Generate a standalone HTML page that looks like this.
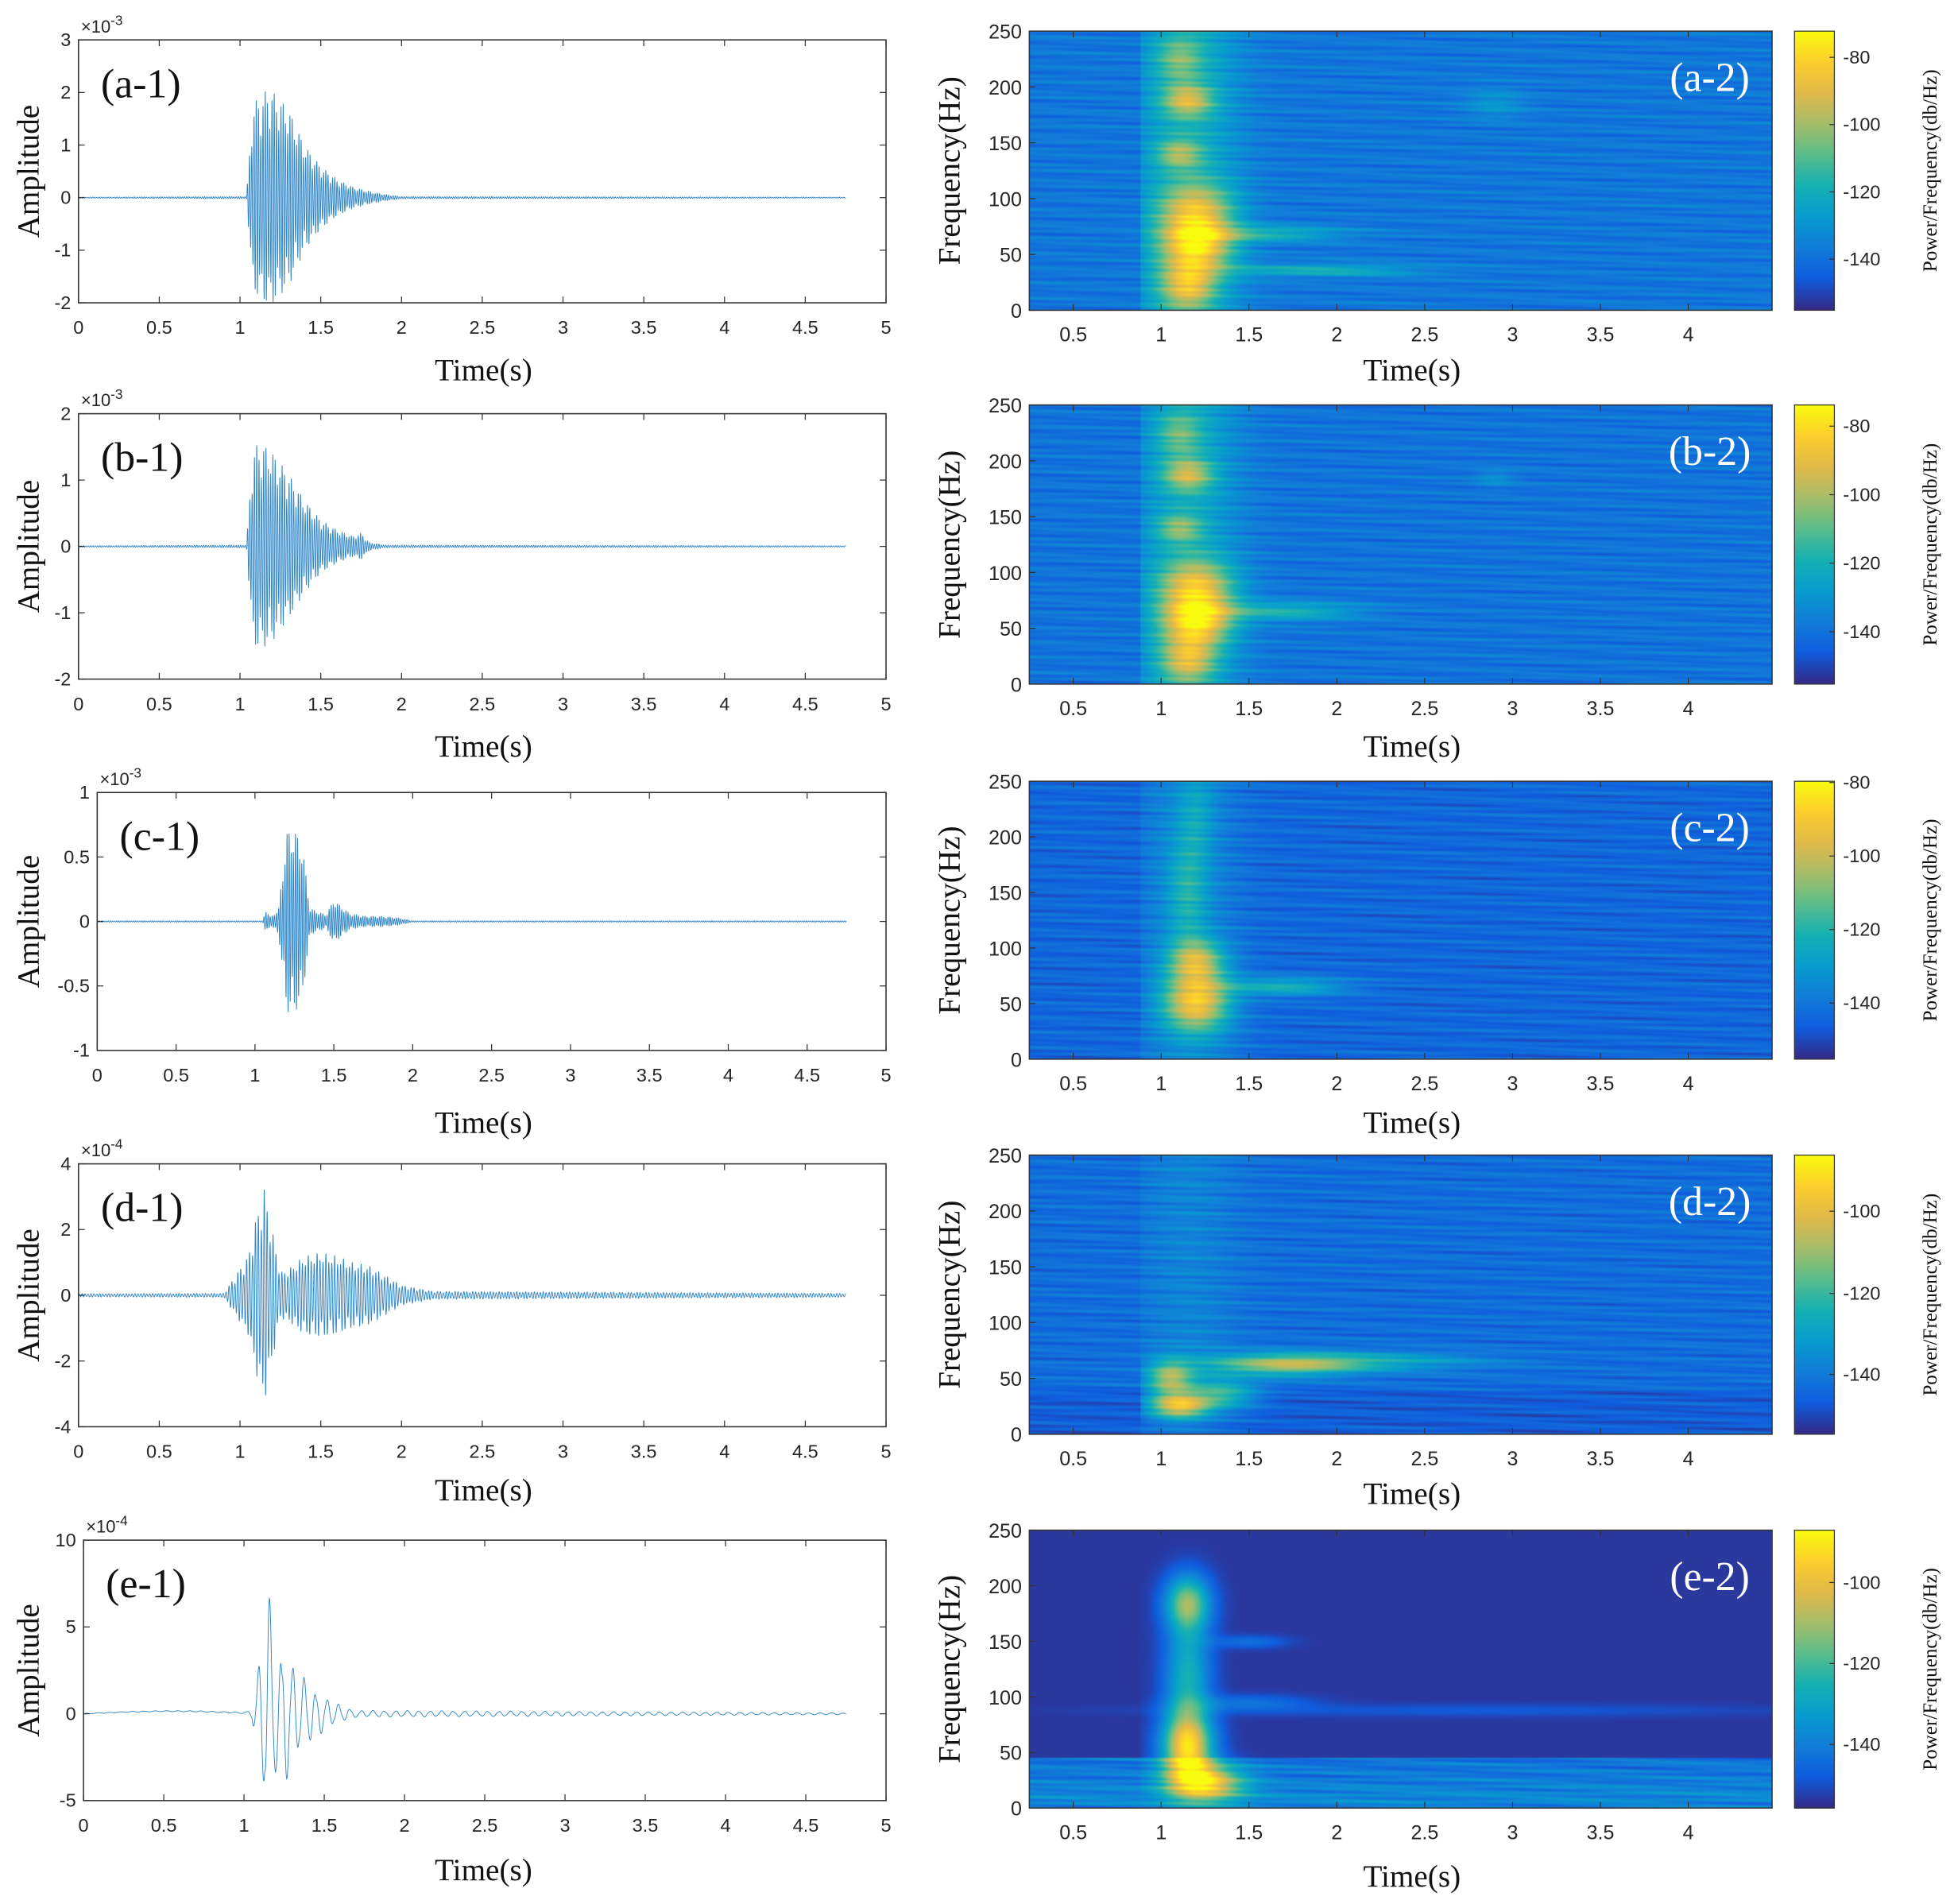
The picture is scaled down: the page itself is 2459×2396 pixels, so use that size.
<!DOCTYPE html>
<html><head><meta charset="utf-8">
<style>
html,body{margin:0;padding:0;background:#fff;}
body{width:2459px;height:2396px;position:relative;overflow:hidden;}
canvas{position:absolute;}
#fig{position:absolute;left:0;top:0;}
</style></head>
<body>
<div id="canvases"></div>
<svg id="fig" width="2459" height="2396" viewBox="0 0 1568 1528" preserveAspectRatio="none" xmlns="http://www.w3.org/2000/svg"></svg>
<script>
// ---------- waveform data (envelope values) ----------
const labels1 = ["(a-1)","(b-1)","(c-1)","(d-1)","(e-1)"];
const labels2 = ["(a-2)","(b-2)","(c-2)","(d-2)","(e-2)"];
const yTicksA = [-2,-1,0,1,2,3];
const yTicksB = [-2,-1,0,1,2];
const yTicksC = [-1,-0.5,0,0.5,1];
const yTicksD = [-4,-2,0,2,4];
const yTicksE = [-5,0,5,10];
const expLabels = ["-3","-3","-3","-4","-4"];
const xTicks = [0,0.5,1,1.5,2,2.5,3,3.5,4,4.5,5];
const envTimesA = [0,1.04,1.08,1.12,1.18,1.24,1.3,1.4,1.5,1.6,1.7,1.8,1.9,2.0,4.75];
const envValsA  = [0.01,0.02,1.8,1.9,2.1,1.9,1.7,1.0,0.6,0.35,0.2,0.12,0.06,0.02,0.01];
const envTimesB = [0,1.04,1.08,1.12,1.18,1.24,1.3,1.4,1.5,1.6,1.7,1.75,1.8,1.9,4.75];
const envValsB  = [0.01,0.02,1.5,1.55,1.5,1.3,1.1,0.7,0.4,0.25,0.15,0.2,0.06,0.02,0.01];
const envTimesC = [0,1.05,1.07,1.1,1.15,1.2,1.25,1.3,1.35,1.45,1.5,1.6,1.7,1.8,1.9,2.0,4.75];
const envValsC  = [0.005,0.005,0.1,0.03,0.1,0.7,0.72,0.6,0.1,0.05,0.17,0.06,0.04,0.04,0.03,0.005,0.005];
const envTimesD = [0,0.9,1.05,1.1,1.15,1.2,1.25,1.3,1.4,1.5,1.6,1.7,1.8,1.9,2.0,2.2,4.75];
const envValsD  = [0.05,0.06,1.2,2.4,3.3,2.0,0.7,0.8,1.2,1.3,1.2,1.0,0.9,0.6,0.3,0.12,0.06];
const envTimesE = [0,1.0,1.05,1.1,1.15,1.2,1.25,1.3,1.4,1.5,1.6,1.7,4.75];
const envValsE  = [0.02,0.04,0.3,3.5,7.5,3.5,4.2,3.0,1.8,1.0,0.5,0.2,0.05];

// ---------- spectrogram blobs: [time(s), freq(Hz), sigmaT, sigmaF, strength 0..1] ----------
const blobsA = [[1.2,55,0.14,16,0.5],[1.2,88,0.15,18,0.42],[1.15,20,0.11,14,0.42],[1.15,188,0.1,10,0.38],[1.1,140,0.09,9,0.3],[1.1,225,0.09,14,0.22],[1.6,68,0.3,5,0.25],[1.9,35,0.4,4,0.24],[2.9,185,0.12,10,0.12]];
const blobsB = [[1.2,55,0.14,16,0.55],[1.2,88,0.15,17,0.45],[1.15,20,0.11,14,0.4],[1.15,188,0.1,10,0.38],[1.1,140,0.09,9,0.28],[1.1,225,0.09,14,0.22],[1.7,65,0.3,6,0.26],[2.9,185,0.08,6,0.1]];
const blobsC = [[1.2,50,0.13,18,0.6],[1.2,88,0.11,14,0.46],[1.7,65,0.25,6,0.28],[1.15,150,0.08,35,0.2],[1.2,220,0.07,30,0.12]];
const blobsD = [[1.1,25,0.12,8,0.62],[1.05,50,0.09,11,0.45],[1.7,62,0.3,7,0.45],[2.2,65,0.45,6,0.22],[1.35,35,0.14,9,0.32]];
const blobsE = [[1.15,185,0.09,18,0.58],[1.15,55,0.1,22,0.85],[1.25,22,0.15,12,0.65],[1.15,120,0.09,35,0.4],[1.5,150,0.15,4,0.15],[1.5,95,0.25,5,0.15],[2.8,88,1.2,4,0.08]];
const baseLevels = [0.2,0.19,0.15,0.17,0.03];
const bandLevels = [0.22,0.2,0.12,0.08,0];
const cbTicks = [[-80,-100,-120,-140],[-80,-100,-120,-140],[-80,-100,-120,-140],[-100,-120,-140],[-100,-120,-140]];
const cbTickY = [[46,100,154,208],[342,397,452,507],[628,687,746,805],[972,1038,1103],[1270,1335,1400]];
const specTicks = [0.5,1,1.5,2,2.5,3,3.5,4];
const freqTicks = [0,50,100,150,200,250];

// ---------- layout (in 1568x1528 figure units) ----------
const S = 2459/1568;
const left = [
 {x0:63,x1:711,yT:32,yB:243,ymin:-2,ymax:3,ticks:yTicksA,times:envTimesA,vals:envValsA},
 {x0:63,x1:711,yT:332,yB:545,ymin:-2,ymax:2,ticks:yTicksB,times:envTimesB,vals:envValsB},
 {x0:78,x1:711,yT:636,yB:843,ymin:-1,ymax:1,ticks:yTicksC,times:envTimesC,vals:envValsC},
 {x0:63,x1:711,yT:934,yB:1145,ymin:-4,ymax:4,ticks:yTicksD,times:envTimesD,vals:envValsD},
 {x0:67,x1:711,yT:1236,yB:1445,ymin:-5,ymax:10,ticks:yTicksE,times:envTimesE,vals:envValsE}
];
const spec = [
 {yT:25,yB:249,blobs:blobsA},{yT:325,yB:549,blobs:blobsB},{yT:627,yB:850,blobs:blobsC},
 {yT:927,yB:1151,blobs:blobsD},{yT:1228,yB:1451,blobs:blobsE}
];
const SX0=826, SX1=1422, T0=0.25, T1=0.25+(1422-826)/141;
const CBX0=1440, CBX1=1472;

const NS="http://www.w3.org/2000/svg";
const svg=document.getElementById('fig');
function el(tag,attrs,parent){const e=document.createElementNS(NS,tag);for(const k in attrs)e.setAttribute(k,attrs[k]);(parent||svg).appendChild(e);return e;}
function txt(s,attrs,parent){const e=el('text',attrs,parent);e.textContent=s;return e;}

const parula=[[53,42,135],[15,92,221],[18,125,216],[7,156,207],[21,177,180],[89,189,140],[165,190,107],[225,185,74],[252,206,46],[249,251,14]];
function cmap(v){v=Math.max(0,Math.min(1,v));const p=v*(parula.length-1);const i=Math.min(parula.length-2,Math.floor(p));const f=p-i;const a=parula[i],b=parula[i+1];return [a[0]+(b[0]-a[0])*f,a[1]+(b[1]-a[1])*f,a[2]+(b[2]-a[2])*f];}
function interp(ts,vs,t){if(t<=ts[0])return vs[0];for(let i=1;i<ts.length;i++){if(t<=ts[i]){const f=(t-ts[i-1])/(ts[i]-ts[i-1]);return vs[i-1]+(vs[i]-vs[i-1])*f;}}return vs[vs.length-1];}

const serif='"Liberation Serif", serif', sans='"Liberation Sans", sans-serif';

left.forEach((p,k)=>{
  const g=el('g',{});
  
  
  const xs=t=>p.x0+(t/5)*(p.x1-p.x0);
  const ys=v=>p.yB-(v-p.ymin)/(p.ymax-p.ymin)*(p.yB-p.yT);
  let d='';
  const f0=[72,70,75,55,14][k];
  const step=k===4?0.002:0.0006;
  for(let t=0;t<=4.75;t+=step){
    const e=interp(p.times,p.vals,t);
    const y=e*Math.sin(2*Math.PI*f0*t)*(0.6+0.4*Math.abs(Math.sin(2*Math.PI*9.3*t)));
    let off=0; if(k===4) off=0.15*Math.sin(Math.PI*t/1.1)*(t<1.1?1:0);
    d+=(d?'L':'M')+xs(t).toFixed(2)+' '+ys(y+off).toFixed(2);
  }
  const path=el('path',{d:d,fill:'none',stroke:'#2f86c8','stroke-width':0.6},g);
  
  
  const fr=el('rect',{x:p.x0,y:p.yT,width:p.x1-p.x0,height:p.yB-p.yT,fill:'none',stroke:'#333','stroke-width':1},g);
  
  
  xTicks.forEach(t=>{
    const x=xs(t);
    el('line',{x1:x,x2:x,y1:p.yB,y2:p.yB-5,stroke:'#333','stroke-width':0.8},g);
    el('line',{x1:x,x2:x,y1:p.yT,y2:p.yT+5,stroke:'#333','stroke-width':0.8},g);
    const tl=txt(String(t),{x:x,y:p.yB+25,'font-family':sans,'font-size':15,'text-anchor':'middle',fill:'#262626'},g);
    
    
  });
  p.ticks.forEach(v=>{
    const y=ys(v);
    el('line',{x1:p.x0,x2:p.x0+5,y1:y,y2:y,stroke:'#333','stroke-width':0.8},g);
    el('line',{x1:p.x1,x2:p.x1-5,y1:y,y2:y,stroke:'#333','stroke-width':0.8},g);
    const yl=txt(String(v),{x:p.x0-6,y:y+5,'font-family':sans,'font-size':15,'text-anchor':'end',fill:'#262626'},g);
    
    
  });
  const ex=el('text',{x:p.x0+2,y:p.yT-6,'font-family':sans,'font-size':14,fill:'#262626'},g);
  ex.textContent='\u00d710';
  const sup=el('tspan',{dy:-6,'font-size':11},ex); sup.textContent=expLabels[k];
  
  
  const pl=txt(labels1[k],{x:p.x0+18,y:p.yT+46,'font-family':serif,'font-size':33,fill:'#111'},g);
  
  
  const xt=txt('Time(s)',{x:388,y:[296,598,900,1195,1500][k]+9,'font-family':serif,'font-size':25,'text-anchor':'middle',fill:'#111'},g);
  
  
  const cy=(p.yT+p.yB)/2;
  const yt=txt('Amplitude',{x:0,y:0,transform:`translate(31,${cy}) rotate(-90)`,'font-family':serif,'font-size':25,'text-anchor':'middle',fill:'#111'},g);
  
  
});

// ---------- spectrograms ----------
const cdiv=document.getElementById('canvases');
spec.forEach((p,k)=>{
  const W=Math.round((SX1-SX0)*S), H=Math.round((p.yB-p.yT)*S);
  const cv=document.createElement('canvas');
  cv.width=W/2|0; cv.height=H/2|0;
  cv.style.left=(SX0*S)+'px'; cv.style.top=(p.yT*S)+'px';
  cv.style.width=W+'px'; cv.style.height=H+'px';
  
  
  cdiv.appendChild(cv);
  const ctx=cv.getContext('2d');
  const img=ctx.createImageData(cv.width,cv.height);
  const base=baseLevels[k], band=bandLevels[k];
  for(let j=0;j<cv.height;j++){
    const f=250*(1-j/(cv.height-1));
    for(let i=0;i<cv.width;i++){
      const t=T0+(T1-T0)*i/(cv.width-1);
      let v=base;
      const tex=0.06*Math.sin(f*0.71+t*1.9)*Math.sin(f*0.23-t*2.7)+0.04*Math.sin(f*1.3+t*5.7)*Math.sin(t*3.3+f*0.05);
      if(k<4){
        v+=tex;
        if(k===3 && f<40) v-=0.05;
      } else {
        if(f<45) v+=0.17+tex*1.3+0.06*Math.exp(-0.5*Math.pow((f-10)/10,2));
      }
      const onset=t<0.88?0.04:1;
      if(t>=0.88) v+=band*Math.exp(-0.5*Math.pow((t-1.15)/0.2,2));
      p.blobs.forEach(b=>{
        const dt=(t-b[0])/b[2], df=(f-b[1])/b[3];
        v+=b[4]*Math.exp(-0.5*(dt*dt+df*df))*(b[0]<1.6?onset:1);
      });
      const c=cmap(v);const o=(j*cv.width+i)*4;
      img.data[o]=c[0];img.data[o+1]=c[1];img.data[o+2]=c[2];img.data[o+3]=255;
    }
  }
  ctx.putImageData(img,0,0);
  const cb=document.createElement('canvas');
  cb.width=4;cb.height=200;
  cb.style.left=(CBX0*S)+'px';cb.style.top=(p.yT*S)+'px';
  cb.style.width=((CBX1-CBX0)*S)+'px';cb.style.height=H+'px';
  
  
  cdiv.appendChild(cb);
  const c2=cb.getContext('2d');
  for(let j=0;j<200;j++){const c=cmap(1-j/199);c2.fillStyle=`rgb(${c[0]|0},${c[1]|0},${c[2]|0})`;c2.fillRect(0,j,4,1);}

  const g=el('g',{});
  
  
  const xs=t=>SX0+(t-T0)/(T1-T0)*(SX1-SX0);
  const ys=fq=>p.yB-fq/250*(p.yB-p.yT);
  el('rect',{x:SX0,y:p.yT,width:SX1-SX0,height:p.yB-p.yT,fill:'none',stroke:'#333','stroke-width':1},g);
  el('rect',{x:CBX0,y:p.yT,width:CBX1-CBX0,height:p.yB-p.yT,fill:'none',stroke:'#333','stroke-width':0.8},g);
  specTicks.forEach(t=>{
    const x=xs(t);
    el('line',{x1:x,x2:x,y1:p.yB,y2:p.yB-5,stroke:'#333','stroke-width':0.8},g);
    el('line',{x1:x,x2:x,y1:p.yT,y2:p.yT+5,stroke:'#333','stroke-width':0.8},g);
    const tl=txt(String(t),{x:x,y:p.yB+25,'font-family':sans,'font-size':16,'text-anchor':'middle',fill:'#262626'},g);
    
    
  });
  freqTicks.forEach(fq=>{
    const y=ys(fq);
    el('line',{x1:SX0,x2:SX0+5,y1:y,y2:y,stroke:'#333','stroke-width':0.8},g);
    const yl=txt(String(fq),{x:SX0-6,y:y+6,'font-family':sans,'font-size':16,'text-anchor':'end',fill:'#262626'},g);
    
    
  });
  cbTicks[k].forEach((v,i)=>{
    const y=cbTickY[k][i];
    el('line',{x1:CBX1,x2:CBX1-4,y1:y,y2:y,stroke:'#333','stroke-width':0.8},g);
    const cl=txt(String(v),{x:CBX1+7,y:y+5,'font-family':sans,'font-size':15,fill:'#262626'},g);
    
    
  });
  const cy=(p.yT+p.yB)/2;
  const ct=txt('Power/Frequency(db/Hz)',{x:0,y:0,transform:`translate(1554,${cy}) rotate(-90)`,'font-family':serif,'font-size':16,'text-anchor':'middle',fill:'#111'},g);
  
  
  const yt=txt('Frequency(Hz)',{x:0,y:0,transform:`translate(770,${cy}) rotate(-90)`,'font-family':serif,'font-size':25,'text-anchor':'middle',fill:'#111'},g);
  
  
  const xt=txt('Time(s)',{x:1133,y:[296,598,900,1198,1505][k]+9,'font-family':serif,'font-size':25,'text-anchor':'middle',fill:'#111'},g);
  
  
  const pl=txt(labels2[k],{x:1372,y:p.yT+48,'font-family':serif,'font-size':33,'text-anchor':'middle',fill:'#fff'},g);
  
  
});
</script>
</body></html>
